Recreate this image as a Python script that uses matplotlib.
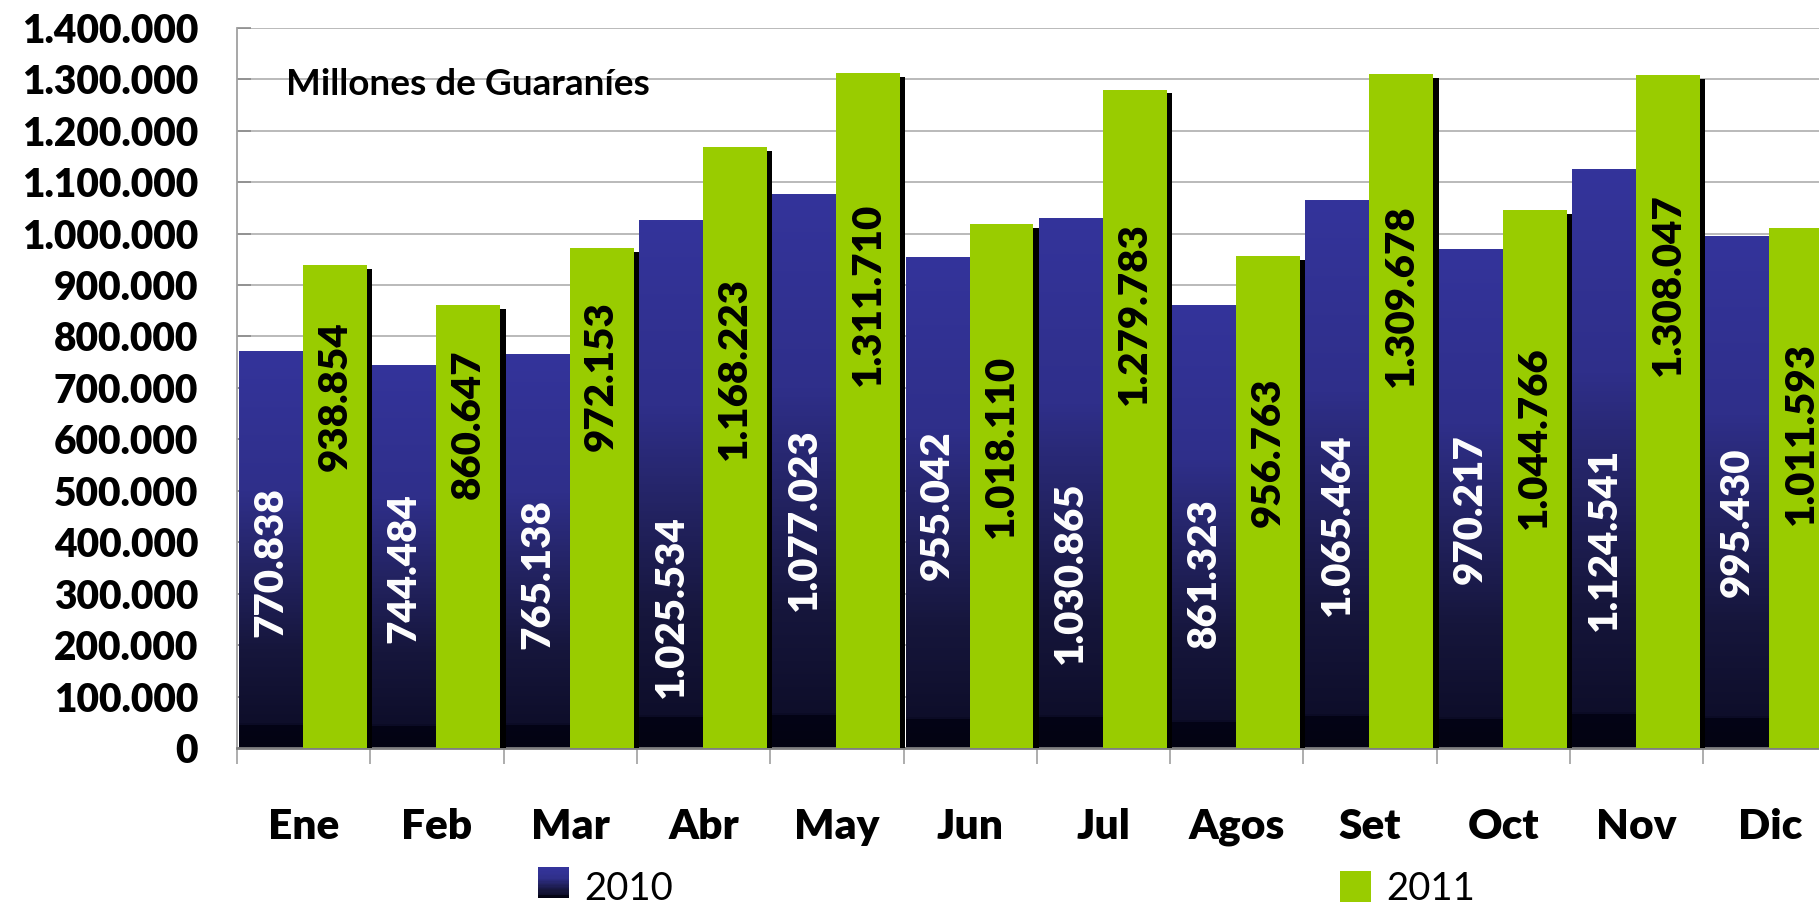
import matplotlib
matplotlib.use('Agg')
import matplotlib.pyplot as plt
import matplotlib.patheffects as pe
import numpy as np
from matplotlib.colors import LinearSegmentedColormap
from matplotlib.legend_handler import HandlerBase
from matplotlib.patches import Rectangle
from matplotlib.ticker import FuncFormatter, FixedLocator

plt.rcParams['font.family'] = ['Lato', 'DejaVu Sans']

months = ['Ene', 'Feb', 'Mar', 'Abr', 'May', 'Jun', 'Jul', 'Agos', 'Set', 'Oct', 'Nov', 'Dic']
v2010 = [770838, 744484, 765138, 1025534, 1077023, 955042, 1030865, 861323, 1065464, 970217, 1124541, 995430]
v2011 = [938854, 860647, 972153, 1168223, 1311710, 1018110, 1279783, 956763, 1309678, 1044766, 1308047, 1011593]
series_names = ['2010', '2011']

# where the value labels sit (label centre, in axis units) - placed by hand in the original
lab_y_2010 = [362e3, 349e3, 338e3, 275e3, 444e3, 471e3, 340e3, 340e3, 435e3, 464e3, 405e3, 439e3]
lab_y_2011 = [683e3, 629e3, 723e3, 737e3, 881e3, 586e3, 845e3, 575e3, 879e3, 604e3, 901e3, 611e3]

GREEN = '#99cc00'
BLUE = '#333399'
WEIGHT = 'heavy'
blue_grad = LinearSegmentedColormap.from_list('bluegrad', [
    (0.0, (3/255, 3/255, 18/255)),
    (0.055, (4/255, 4/255, 22/255)),
    (0.06, (14/255, 14/255, 42/255)),
    (0.25, (22/255, 22/255, 60/255)),
    (0.45, (35/255, 35/255, 98/255)),
    (0.65, (47/255, 47/255, 138/255)),
    (1.0, (52/255, 52/255, 155/255)),
])


def thousands(v):
    return f"{int(round(v)):,}".replace(',', '.')


class GradHandler(HandlerBase):
    def create_artists(self, legend, orig, xd, yd, w, h, fontsize, trans):
        arts = []
        n = 24
        for i in range(n):
            r = Rectangle((xd, yd + h * i / n), w, h / n + 0.3, facecolor=blue_grad(i / (n - 1)),
                          edgecolor='none', transform=trans)
            arts.append(r)
        return arts


fig = plt.figure(figsize=(18.19, 9.06), dpi=100)
ax = fig.add_axes([0.1303, 0.1744, 0.8794, 0.795])

x = np.arange(len(months))
w = 0.48
bars10 = ax.bar(x + 0.015, v2010, w, align='edge', color=BLUE, zorder=2)
bars11 = ax.bar(x + 0.495, v2011, w, align='edge', color=GREEN, zorder=3)

grad = blue_grad(np.linspace(0, 1, 256))[:, None, :3]
for b in bars10:
    im = ax.imshow(grad, extent=(b.get_x(), b.get_x() + b.get_width(), 0, b.get_height()),
                   origin='lower', aspect='auto', zorder=2.1, interpolation='nearest')
    im.set_clip_path(b)

for b in bars11:
    b.set_path_effects([pe.SimplePatchShadow(offset=(3.8, -2.7), shadow_rgbFace='black', alpha=1.0),
                        pe.Normal()])

for b, ly in zip(bars10, lab_y_2010):
    ax.text(b.get_x() + b.get_width() / 2, ly, thousands(b.get_height()), rotation=90,
            ha='center', va='center', color='white', fontsize=29, fontweight=WEIGHT, zorder=5)
for b, ly in zip(bars11, lab_y_2011):
    ax.text(b.get_x() + b.get_width() / 2, ly, thousands(b.get_height()), rotation=90,
            ha='center', va='center', color='black', fontsize=29, fontweight=WEIGHT, zorder=5)

ax.set_xlim(0, len(months))
ax.set_ylim(0, 1400000)
ax.yaxis.set_major_locator(FixedLocator(np.arange(0, 1400001, 100000)))
ax.yaxis.set_major_formatter(FuncFormatter(lambda v, p: thousands(v)))
ax.tick_params(axis='y', direction='in', length=10, width=1.2, color='#8c8c8c', pad=28,
               labelsize=28)
for t in ax.get_yticklabels():
    t.set_fontweight(WEIGHT)

ax.set_xticks(x + 0.5)
ax.set_xticklabels(months, fontsize=30.5, fontweight=WEIGHT)
ax.set_xticks(np.arange(0, len(months) + 1), minor=True)
ax.tick_params(axis='x', which='major', length=0, pad=43)
ax.tick_params(axis='x', which='minor', direction='out', length=11.5, width=1.2, color='#a0a0a0')

ax.grid(axis='y', color='#b4b4b4', linewidth=1.3, zorder=0)
ax.set_axisbelow(True)
for s in ['top', 'right']:
    ax.spines[s].set_visible(False)
ax.spines['left'].set_color('#a0a0a0')
ax.spines['left'].set_linewidth(1.3)
ax.spines['bottom'].set_color('#7f7f7f')
ax.spines['bottom'].set_linewidth(2)

fig.text(286 / 1819, 1 - 95 / 906, 'Millones de Guaraníes', fontsize=26.6, fontweight='bold',
         ha='left', va='baseline')

legend_handles = [Rectangle((0, 0), 1, 1, facecolor=BLUE), Rectangle((0, 0), 1, 1, facecolor=GREEN)]
fig.legend(legend_handles, series_names, handler_map={legend_handles[0]: GradHandler()},
           loc='upper left', bbox_to_anchor=(538 / 1819, 1 - 871 / 906), ncol=2,
           frameon=False, fontsize=27.6, borderpad=0, borderaxespad=0,
           handlelength=0.82, handleheight=0.85, handletextpad=0.38, columnspacing=17.4)

fig.savefig('out.png', dpi=100)
